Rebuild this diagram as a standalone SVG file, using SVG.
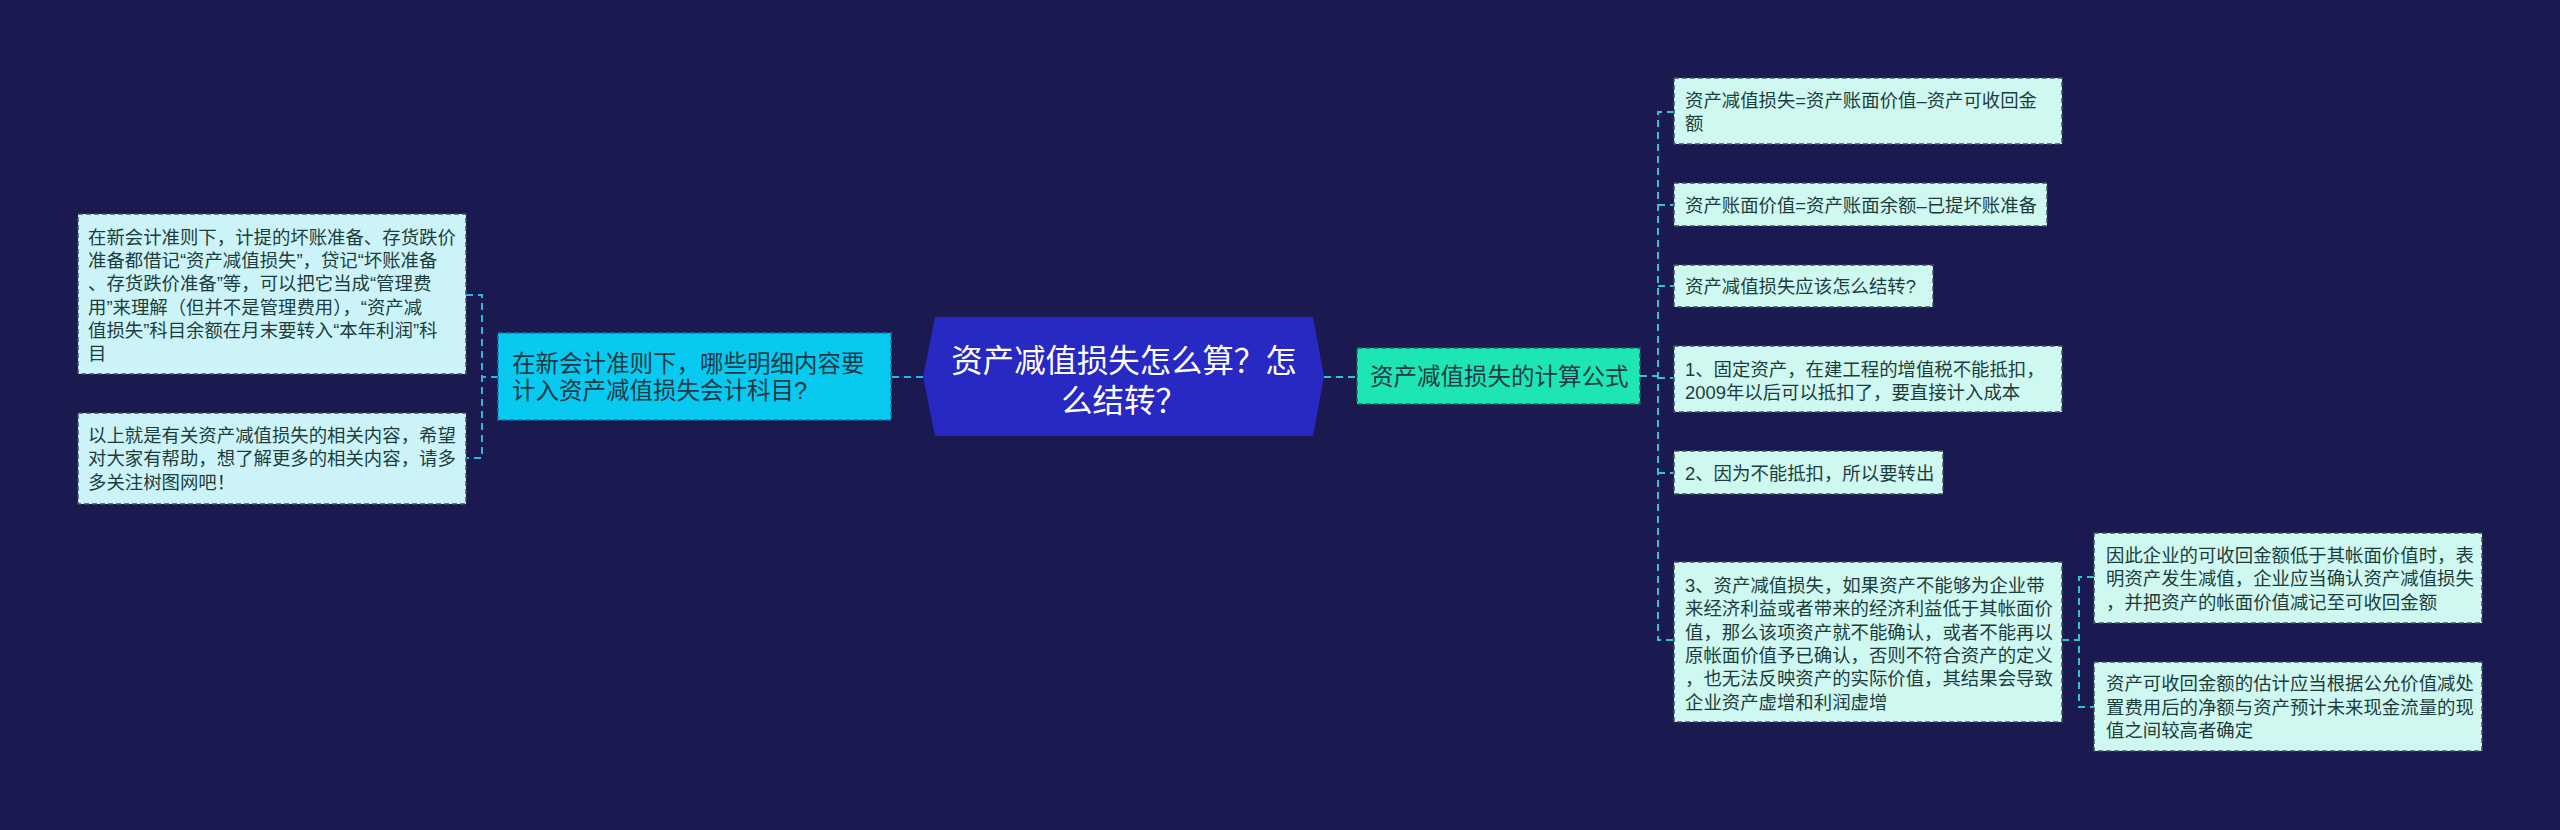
<svg xmlns="http://www.w3.org/2000/svg" width="2560" height="830" viewBox="0 0 2560 830">
<style>
text{font-family:"Liberation Sans","Noto Sans CJK SC",sans-serif;}
.leaf rect{fill:#cff8f0;stroke:#3d4f5e;stroke-width:1.5;stroke-dasharray:5 3;}
.leafL rect{fill:#ccf4f8;}
.leaf text{font-size:18.4px;fill:#1d3d3d;}
.sub text{font-size:23.5px;fill:#1d3a44;}
.conL{fill:none;stroke:#27b9e3;stroke-width:2;stroke-dasharray:7 5;}
.conR{fill:none;stroke:#33c3c9;stroke-width:2;stroke-dasharray:7 5;}
</style>
<rect width="2560" height="830" fill="#1a1a50"/>
<g id="connectors">
<path class="conL" d="M923 377H891"/>
<path class="conL" d="M498 377H482M466 295H482V458H466"/>
<path class="conR" d="M1324 377H1357"/>
<path class="conR" d="M1640 376H1658M1674 112H1658V640H1674M1658 205H1674M1658 286H1674M1658 378H1674M1658 473H1674"/>
<path class="conR" d="M2062 640H2079M2094 577H2079V707H2094"/>
</g>
<g id="root">
<polygon points="935,317 1313,317 1324,377 1313,436 935,436 923,377" fill="#2828c2"/>
<text font-size="31.4" fill="#ffffff" text-anchor="middle"><tspan x="1124" y="372">资产减值损失怎么算？怎</tspan><tspan x="1124" y="412">么结转？</tspan></text>
</g>
<g id="left-main" class="sub">
<rect x="498" y="333" width="393" height="87" fill="#08c9f0" stroke="#1a7aa8" stroke-width="1.5" stroke-dasharray="5 3"/>
<text><tspan x="512" y="372">在新会计准则下，哪些明细内容要</tspan><tspan x="512" y="399">计入资产减值损失会计科目?</tspan></text>
</g>
<g id="left-leaf-1" class="leaf leafL">
<rect x="78" y="214" width="388" height="160"/>
<text><tspan x="88" y="244">在新会计准则下，计提的坏账准备、存货跌价</tspan><tspan x="88" y="267">准备都借记“资产减值损失”，贷记“坏账准备</tspan><tspan x="88" y="290">、存货跌价准备”等，可以把它当成“管理费</tspan><tspan x="88" y="314">用”来理解（但并不是管理费用），“资产减</tspan><tspan x="88" y="337">值损失”科目余额在月末要转入“本年利润”科</tspan><tspan x="88" y="360">目</tspan></text>
</g>
<g id="left-leaf-2" class="leaf leafL">
<rect x="78" y="413" width="388" height="91"/>
<text><tspan x="88" y="442">以上就是有关资产减值损失的相关内容，希望</tspan><tspan x="88" y="465">对大家有帮助，想了解更多的相关内容，请多</tspan><tspan x="88" y="489">多关注树图网吧！</tspan></text>
</g>
<g id="right-main" class="sub">
<rect x="1357" y="348" width="283" height="56" fill="#1de6b4" stroke="#1a6a5a" stroke-width="1.5" stroke-dasharray="5 3"/>
<text x="1370" y="385">资产减值损失的计算公式</text>
</g>
<g id="right-leaf-1" class="leaf">
<rect x="1674" y="78" width="388" height="66"/>
<text><tspan x="1685" y="107">资产减值损失=资产账面价值–资产可收回金</tspan><tspan x="1685" y="130">额</tspan></text>
</g>
<g id="right-leaf-2" class="leaf">
<rect x="1674" y="183" width="373" height="43"/>
<text x="1685" y="212">资产账面价值=资产账面余额–已提坏账准备</text>
</g>
<g id="right-leaf-3" class="leaf">
<rect x="1674" y="265" width="259" height="42"/>
<text x="1685" y="293">资产减值损失应该怎么结转?</text>
</g>
<g id="right-leaf-4" class="leaf">
<rect x="1674" y="346" width="388" height="66"/>
<text><tspan x="1685" y="376">1、固定资产，在建工程的增值税不能抵扣，</tspan><tspan x="1685" y="399">2009年以后可以抵扣了，要直接计入成本</tspan></text>
</g>
<g id="right-leaf-5" class="leaf">
<rect x="1674" y="451" width="269" height="43"/>
<text x="1685" y="480">2、因为不能抵扣，所以要转出</text>
</g>
<g id="right-leaf-6" class="leaf">
<rect x="1674" y="562" width="388" height="160"/>
<text><tspan x="1685" y="592">3、资产减值损失，如果资产不能够为企业带</tspan><tspan x="1685" y="615">来经济利益或者带来的经济利益低于其帐面价</tspan><tspan x="1685" y="639">值，那么该项资产就不能确认，或者不能再以</tspan><tspan x="1685" y="662">原帐面价值予已确认，否则不符合资产的定义</tspan><tspan x="1685" y="685">，也无法反映资产的实际价值，其结果会导致</tspan><tspan x="1685" y="709">企业资产虚增和利润虚增</tspan></text>
</g>
<g id="right-leaf-7" class="leaf">
<rect x="2094" y="533" width="388" height="90"/>
<text><tspan x="2106" y="562">因此企业的可收回金额低于其帐面价值时，表</tspan><tspan x="2106" y="585">明资产发生减值，企业应当确认资产减值损失</tspan><tspan x="2106" y="609">，并把资产的帐面价值减记至可收回金额</tspan></text>
</g>
<g id="right-leaf-8" class="leaf">
<rect x="2094" y="662" width="388" height="89"/>
<text><tspan x="2106" y="690">资产可收回金额的估计应当根据公允价值减处</tspan><tspan x="2106" y="714">置费用后的净额与资产预计未来现金流量的现</tspan><tspan x="2106" y="737">值之间较高者确定</tspan></text>
</g>
</svg>
